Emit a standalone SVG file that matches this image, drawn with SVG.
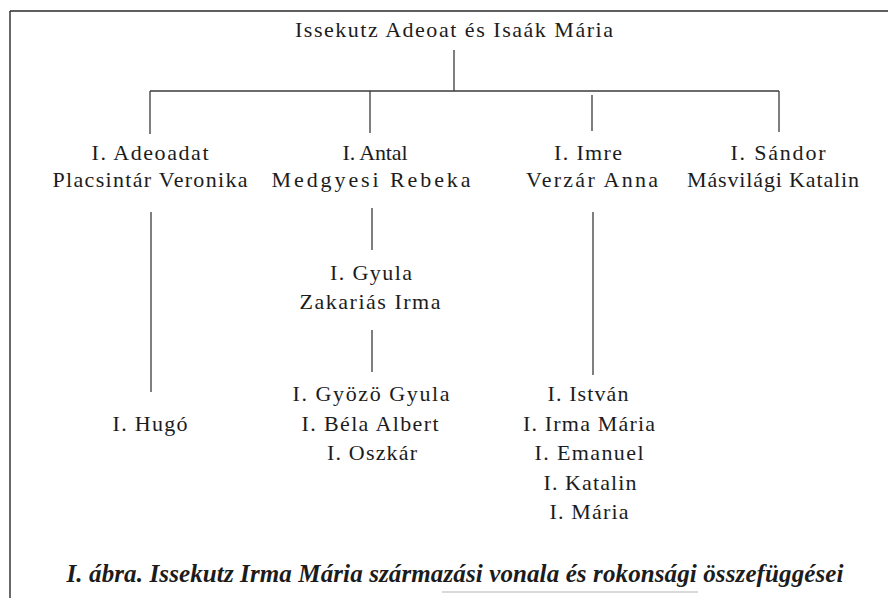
<svg xmlns="http://www.w3.org/2000/svg" width="888" height="598" viewBox="0 0 888 598">
<style>
.n{font-family:"Liberation Serif","Times New Roman",serif;font-size:22px;fill:#1c1c1c;text-anchor:middle}
.cap{font-family:"Liberation Serif","Times New Roman",serif;font-size:25px;font-style:italic;font-weight:bold;fill:#1c1c1c;text-anchor:middle}
.ln{stroke:#3a3a3a;stroke-width:1.3;fill:none}
.frame{stroke:#2a2a2a;stroke-width:1.4;fill:none}
</style>
<rect width="888" height="598" fill="#ffffff"/>
<g id="frame">
<path class="frame" d="M10,11 H888 M10,11 V598"/>
</g>
<g id="connectors">
<path class="ln" d="M454,50 V91"/>
<path class="ln" d="M150,91 H779"/>
<path class="ln" d="M150,91 V134"/>
<path class="ln" d="M370,91 V133"/>
<path class="ln" d="M592,95 V131"/>
<path class="ln" d="M779,91 V132"/>
<path class="ln" d="M372,208 V250"/>
<path class="ln" d="M372,330 V372"/>
<path class="ln" d="M151,212 V392"/>
<path class="ln" d="M593,212 V375"/>
</g>
<g id="node-root">
<text class="n" x="454" y="37" textLength="318">Issekutz Adeoat és Isaák Mária</text>
</g>
<g id="node-adeoadat">
<text class="n" x="150" y="160" textLength="117">I. Adeoadat</text>
<text class="n" x="150" y="187" textLength="195">Placsintár Veronika</text>
</g>
<g id="node-antal">
<text class="n" x="375" y="160" textLength="65">I. Antal</text>
<text class="n" x="371" y="187" textLength="199">Medgyesi Rebeka</text>
</g>
<g id="node-imre">
<text class="n" x="588" y="160" textLength="68">I. Imre</text>
<text class="n" x="592" y="187" textLength="132">Verzár Anna</text>
</g>
<g id="node-sandor">
<text class="n" x="778" y="160" textLength="95">I. Sándor</text>
<text class="n" x="773" y="187" textLength="172">Másvilági Katalin</text>
</g>
<g id="node-gyula">
<text class="n" x="371" y="280" textLength="82">I. Gyula</text>
<text class="n" x="370" y="309" textLength="141">Zakariás Irma</text>
</g>
<g id="node-hugo">
<text class="n" x="150" y="431" textLength="75">I. Hugó</text>
</g>
<g id="node-gyula-children">
<text class="n" x="371" y="401" textLength="157">I. Gyözö Gyula</text>
<text class="n" x="370" y="431" textLength="137">I. Béla Albert</text>
<text class="n" x="372" y="460" textLength="90">I. Oszkár</text>
</g>
<g id="node-imre-children">
<text class="n" x="588" y="401" textLength="81">I. István</text>
<text class="n" x="589" y="431" textLength="132">I. Irma Mária</text>
<text class="n" x="589" y="460" textLength="109">I. Emanuel</text>
<text class="n" x="590" y="490" textLength="93">I. Katalin</text>
<text class="n" x="589" y="519" textLength="79">I. Mária</text>
</g>
<g id="caption">
<text class="cap" x="455" y="582" textLength="777">I. ábra. Issekutz Irma Mária származási vonala és rokonsági összefüggései</text>
</g>
<rect x="442" y="591" width="256" height="2" fill="#d9d9d9"/>
</svg>
